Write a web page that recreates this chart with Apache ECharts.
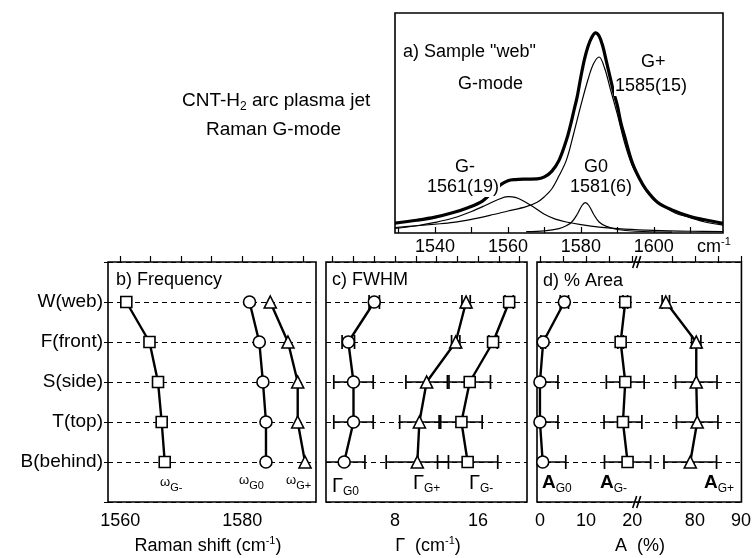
<!DOCTYPE html>
<html><head><meta charset="utf-8">
<script src="https://cdn.jsdelivr.net/npm/echarts@6/dist/echarts.min.js"></script>
<style>html,body{margin:0;padding:0;background:#fff}#c{width:754px;height:558px}</style>
</head><body><div id="c"></div>
<script>
const FONT = '"Liberation Sans", Arial, sans-serif';

// ---- Panel a: Raman spectrum of sample "web" [wavenumber cm-1, intensity a.u.]
const specTotal = [[1529,4.5],[1535,5.8],[1540,7.2],[1545,9.3],[1549,11.5],[1553,14.5],[1556,19],[1558,22],[1560,23.8],[1562,24.3],[1565,24.5],[1568,24.6],[1570,25.5],[1572,28],[1574,33],[1576,42],[1577,48],[1578,55],[1579,62],[1580,71],[1581,79],[1582,85],[1583,89],[1584,91],[1585,89.5],[1586,85],[1587,78],[1588,71],[1589,64],[1590,58],[1591,50],[1592,44],[1594,32.5],[1596,25],[1598,19.5],[1601,14],[1605,10.5],[1610,7.5],[1614,6],[1619,4.4]];
const specGplus = [[1529,2.5],[1535,3.3],[1540,4],[1545,4.8],[1550,6.2],[1555,8],[1560,10],[1565,12],[1568,14],[1570,16.5],[1572,20],[1574,26],[1576,33],[1578,45],[1580,58],[1582,70],[1583.5,77],[1585,80],[1586.5,75],[1588,66],[1590,54],[1592,41],[1594,31],[1596,24.5],[1598,19],[1600,15.5],[1603,12],[1606,9],[1610,7],[1614,5],[1619,3.6]];
const specGminus = [[1529,2.1],[1535,3.3],[1540,4.8],[1545,6.8],[1550,9.8],[1554,12.7],[1557,15],[1560,16.5],[1562,16.2],[1564,14.8],[1567,11.8],[1570,8.5],[1573,6.3],[1576,5],[1580,3.8],[1585,2.7],[1592,1.8],[1600,1.2],[1610,0.8],[1619,0.6]];
const specG0 = [[1565,0.6],[1570,1],[1574,2],[1576,3.3],[1577.5,5],[1579,8.5],[1580.3,12.5],[1581.2,13.8],[1582.2,12.5],[1583.5,8.5],[1585,5],[1587,3],[1590,1.6],[1595,0.8],[1605,0.4]];
const specTickValues = [1530,1540,1550,1560,1570,1580,1590,1600,1610];
const specLabelValues = [1540,1560,1580,1600];

// ---- Sample positions (rows)
const rows = ['W(web)','F(front)','S(side)','T(top)','B(behind)'];
const rowPos = [1,2,3,4,5];

// ---- Panel b: frequency (cm-1)
const omegaGminus = [1561.0,1564.8,1566.2,1566.8,1567.3];
const omegaG0 = [1581.2,1582.8,1583.4,1583.9,1583.9];
const omegaGplus = [1584.6,1587.5,1589.1,1589.1,1590.3];
const freqTickValues = [1560,1565,1570,1575,1580,1585,1590];
const freqLabelValues = [1560,1580];

// ---- Panel c: FWHM (cm-1) and error
const gammaG0 = [6.0,3.5,4.0,4.0,3.1];
const gammaG0Err = [0.5,0.6,1.9,1.9,2.0];
const gammaGplus = [14.85,13.85,11.05,10.35,10.15];
const gammaGplusErr = [0.4,0.4,2.0,1.9,3.0];
const gammaGminus = [19.0,17.45,15.2,14.4,15.0];
const gammaGminusErr = [0.4,0.4,2.0,2.0,2.9];
const fwhmTickValues = [2,4,6,8,10,12,14,16,18,20];
const fwhmLabelValues = [8,16];

// ---- Panel d: % area and error (broken axis 21 .. 67.4)
const areaG0 = [5.3,0.7,0,0,0.6];
const areaG0Err = [0.9,0.5,3.9,3.9,5.0];
const areaGminus = [18.5,17.5,18.5,18.0,19.0];
const areaGminusErr = [0.5,0.6,4.1,4.1,5.0];
const areaGplus = [73.7,80.3,80.3,80.5,79.0];
const areaGplusErr = [0.8,1.0,4.5,4.5,5.7];
const areaTickValues = [0,5,10,15,20,75,80,85,90];
const areaLabelValues = [0,10,20,80,90];
const areaBreakFrom = 21, areaBreakTo = 67.4;

const breakShift = areaBreakTo - areaBreakFrom;
const toAxisA = v => v > areaBreakFrom ? v - breakShift : v;
const fromAxisA = v => v > areaBreakFrom + 0.01 ? Math.round(v + breakShift) : Math.round(v);
const ident = v => v;

const chart = echarts.init(document.getElementById('c'), null, {renderer:'canvas'});

const grids = [
  {left:395, top:13, width:328, height:220},
  {left:108, top:262, width:208, height:240},
  {left:326, top:262, width:201, height:240},
  {left:537, top:262, width:207, height:240}
].map(g => Object.assign({show:true, borderColor:'#000', borderWidth:1.6, backgroundColor:'transparent'}, g));

function xAx(gi, min, max, ticks, labels, fmt, margin) {
  return {type:'value', gridIndex:gi, min, max, position:'bottom',
    axisLine:{show:false},
    axisTick:{show:true, inside:true, length:6, customValues:ticks, lineStyle:{color:'#000', width:1.2}},
    axisLabel:{show:true, customValues:labels, formatter: fmt || (v=>String(v)), color:'#000', fontFamily:FONT, fontSize:18, margin: margin},
    splitLine:{show:false}};
}
function yRows(gi, showLabels) {
  return {type:'value', gridIndex:gi, min:0, max:6, interval:1, inverse:true,
    axisLine:{show:false},
    axisTick:{show:showLabels, inside:false, length:4, lineStyle:{color:'#000'}},
    axisLabel:{show:showLabels, color:'#000', fontFamily:FONT, fontSize:19, margin:5,
      formatter: v => (v>=1 && v<=5) ? rows[v-1] : ''},
    splitLine:{show:true, lineStyle:{color:'#000', width:1, type:[5,4]}}};
}

const xAxes = [
  xAx(0, 1529, 1619, specTickValues, specLabelValues, null, 5),
  xAx(1, 1558, 1592.1, freqTickValues, freqLabelValues, null, 10),
  xAx(2, 1.35, 20.72, fwhmTickValues, fwhmLabelValues, null, 10),
  xAx(3, -0.64, 43.7, areaTickValues.map(toAxisA), areaLabelValues.map(toAxisA), fromAxisA, 10)
];
const yAxes = [
  {type:'value', gridIndex:0, min:0, max:100, show:false},
  yRows(1, true), yRows(2, false), yRows(3, false)
];

function specLine(data, w) {
  return {type:'line', xAxisIndex:0, yAxisIndex:0, data, showSymbol:false, smooth:0.35,
    lineStyle:{color:'#000', width:w}, z:3, silent:true};
}
function markerLine(ai, vals, xform, sym, size) {
  return {type:'line', xAxisIndex:ai, yAxisIndex:ai,
    data: vals.map((v,i)=>[xform(v), rowPos[i]]),
    symbol:sym, symbolSize:size, showSymbol:true,
    itemStyle:{color:'#fff', borderColor:'#000', borderWidth:1.6},
    lineStyle:{color:'#000', width:2.4}, z:4, silent:true};
}
function errSeries(ai, vals, errs, xform) {
  const data = vals.map((v,i)=>[rowPos[i], xform(v)-errs[i], xform(v)+errs[i]]);
  return {type:'custom', xAxisIndex:ai, yAxisIndex:ai, clip:true, z:3, silent:true,
    encode:{x:[1,2], y:0}, data,
    renderItem(params, api) {
      const y = api.value(0), lo = api.value(1), hi = api.value(2);
      const p1 = api.coord([lo,y]), p2 = api.coord([hi,y]);
      const h = 7;
      return {type:'group', children:[
        {type:'line', shape:{x1:p1[0],y1:p1[1],x2:p2[0],y2:p2[1]}, style:{stroke:'#000', lineWidth:1.3}},
        {type:'line', shape:{x1:p1[0],y1:p1[1]-h,x2:p1[0],y2:p1[1]+h}, style:{stroke:'#000', lineWidth:1.7}},
        {type:'line', shape:{x1:p2[0],y1:p2[1]-h,x2:p2[0],y2:p2[1]+h}, style:{stroke:'#000', lineWidth:1.7}}
      ]};
    }};
}

const series = [
  specLine(specGminus, 1.2), specLine(specG0, 1.2), specLine(specGplus, 1.2), specLine(specTotal, 3.2),
  markerLine(1, omegaGminus, ident, 'rect', 11),
  markerLine(1, omegaG0, ident, 'circle', 12),
  markerLine(1, omegaGplus, ident, 'triangle', 12),
  errSeries(2, gammaG0, gammaG0Err, ident),
  errSeries(2, gammaGplus, gammaGplusErr, ident),
  errSeries(2, gammaGminus, gammaGminusErr, ident),
  markerLine(2, gammaG0, ident, 'circle', 12),
  markerLine(2, gammaGplus, ident, 'triangle', 12),
  markerLine(2, gammaGminus, ident, 'rect', 11),
  errSeries(3, areaG0, areaG0Err, toAxisA),
  errSeries(3, areaGminus, areaGminusErr, toAxisA),
  errSeries(3, areaGplus, areaGplusErr, toAxisA),
  markerLine(3, areaG0, toAxisA, 'circle', 12),
  markerLine(3, areaGminus, toAxisA, 'rect', 11),
  markerLine(3, areaGplus, toAxisA, 'triangle', 12)
];

const rich = {
  n:{fontFamily:FONT, fontSize:18, color:'#000'},
  n19:{fontFamily:FONT, fontSize:19, color:'#000'},
  sub:{fontFamily:FONT, fontSize:12, color:'#000', padding:[12,0,0,0]},
  sub2:{fontFamily:FONT, fontSize:11, color:'#000', padding:[12,0,0,0]},
  sup:{fontFamily:FONT, fontSize:11, color:'#000', padding:[0,0,10,0]},
  w:{fontFamily:FONT, fontSize:13, color:'#000'},
  G:{fontFamily:FONT, fontSize:20, color:'#000'},
  A:{fontFamily:FONT, fontSize:19, color:'#000', fontWeight:'bold'}
};
function txt(x, y, text, align, extra) {
  return Object.assign({type:'text', x, y, z:50, silent:true,
    style:{text, rich, font:'18px ' + FONT, fill:'#000', align: align||'left', verticalAlign:'middle'}}, extra||{});
}
function labelBg(x, y, text) {
  return {type:'text', x, y, z:50, silent:true,
    style:{text, font:'18px ' + FONT, fill:'#000', align:'left', verticalAlign:'middle', backgroundColor:'#fff', padding:[1,1,1,1]}};
}

const graphics = [
  txt(182, 101, '{n19|CNT-H}{sub|2}{n19| arc plasma jet}', 'left'),
  txt(206, 130, '{n19|Raman G-mode}', 'left'),
  txt(403, 52, '{n|a) Sample "web"}', 'left'),
  txt(458, 84, '{n|G-mode}', 'left'),
  labelBg(640, 62, 'G+'),
  labelBg(614, 86, '1585(15)'),
  labelBg(454, 167, 'G-'),
  labelBg(426, 187, '1561(19)'),
  labelBg(583, 167, 'G0'),
  labelBg(569, 187, '1581(6)'),
  txt(697, 247, '{n|cm}{sup|-1}', 'left'),
  txt(116, 280, '{n|b) Frequency}', 'left'),
  txt(332, 280, '{n|c) FWHM}', 'left'),
  txt(543, 281, '{n|d) % Area}', 'left'),
  txt(160, 482, '{w|ω}{sub2|G-}', 'left'),
  txt(239, 480, '{w|ω}{sub2|G0}', 'left'),
  txt(286, 480, '{w|ω}{sub2|G+}', 'left'),
  txt(332, 486, '{G|Γ}{sub|G0}', 'left'),
  txt(413, 483, '{G|Γ}{sub|G+}', 'left'),
  txt(469, 483, '{G|Γ}{sub|G-}', 'left'),
  txt(542, 483, '{A|A}{sub|G0}', 'left'),
  txt(600, 483, '{A|A}{sub|G-}', 'left'),
  txt(704, 483, '{A|A}{sub|G+}', 'left'),
  txt(208, 546, '{n|Raman shift (cm}{sup|-1}{n|)}', 'center'),
  txt(428, 546, '{n|Γ  (cm}{sup|-1}{n|)}', 'center'),
  txt(640, 546, '{n|A  (%)}', 'center')
];

chart.setOption({
  animation:false,
  backgroundColor:'#fff',
  grid: grids, xAxis: xAxes, yAxis: yAxes, series, graphic: graphics
});

// axis-break marks on panel d, located through the axis scale
const bTop = chart.convertToPixel({xAxisIndex:3, yAxisIndex:3}, [areaBreakFrom + 0.2, 0]);
const bBot = chart.convertToPixel({xAxisIndex:3, yAxisIndex:3}, [areaBreakFrom + 0.2, 6]);
function brk(p) {
  return [
    {type:'line', z:60, shape:{x1:p[0]-5, y1:p[1]+6, x2:p[0]-1, y2:p[1]-6}, style:{stroke:'#000', lineWidth:1.6}},
    {type:'line', z:60, shape:{x1:p[0]-1, y1:p[1]+6, x2:p[0]+3, y2:p[1]-6}, style:{stroke:'#000', lineWidth:1.6}}
  ];
}
chart.setOption({graphic: graphics.concat(brk(bTop), brk(bBot))});
</script></body></html>
